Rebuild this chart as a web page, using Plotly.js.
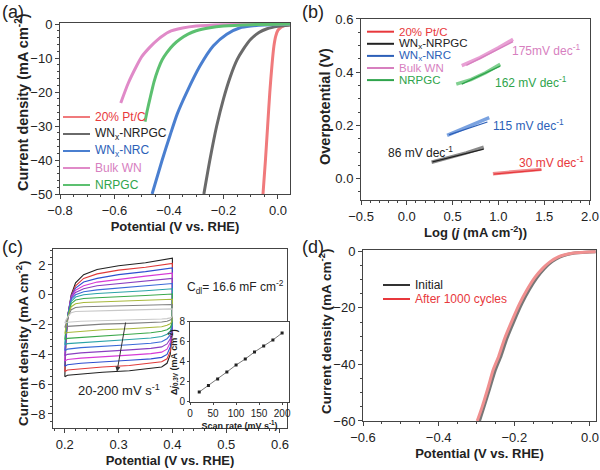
<!DOCTYPE html>
<html lang="en">
<head>
  <meta charset="UTF-8">
  <title>HER performance panels</title>
  <script src="https://cdn.plot.ly/plotly-3.0.1.min.js"></script>
  <style>
    body { margin: 0; background: #fff; }
    #chart { width: 600px; height: 470px; }
  </style>
</head>
<body>
  <div id="chart"></div>
  <script>
    // (a) polarization curves
    const ptcX = [0.044, 0.03, 0.02, 0.01, 0.0, -0.008, -0.015, -0.022, -0.03, -0.038, -0.046, -0.055];
    const ptcY = [-0.2, -0.4, -0.6, -1.0, -1.8, -3.5, -6.5, -12, -20, -30, -40, -50];
    const nrpgcWX = [0.044, 0.0, -0.04, -0.07, -0.1, -0.127, -0.15, -0.175, -0.2, -0.225, -0.25, -0.272];
    const nrpgcWY = [-0.3, -0.7, -1.4, -2.5, -4.5, -7.4, -10.5, -15.5, -22, -30, -40, -50];
    const nrcX = [0.044, -0.05, -0.1, -0.139, -0.188, -0.237, -0.286, -0.335, -0.37, -0.396, -0.425, -0.462];
    const nrcY = [-0.1, -0.3, -0.6, -1.1, -3.0, -6.4, -12.3, -20.1, -26.5, -32.7, -40, -50];
    const bulkX = [0.044, -0.1, -0.2, -0.3, -0.35, -0.4, -0.44, -0.47, -0.5, -0.52, -0.55, -0.577];
    const bulkY = [0, -0.1, -0.2, -0.6, -1.2, -2.3, -4.5, -6.8, -9.6, -12.5, -17.5, -23.2];
    const nrpgcX = [0.044, -0.1, -0.2, -0.25, -0.3, -0.33, -0.36, -0.385, -0.408, -0.425, -0.44, -0.455, -0.47, -0.48, -0.488];
    const nrpgcY = [0, -0.2, -0.6, -1.1, -2.0, -3.0, -4.5, -6.2, -8.4, -10.5, -13.3, -17, -22, -25.5, -28.7];

    // (b) Tafel plots: data and fitted lines
    const tafPtX = [0.94, 1.1, 1.3, 1.47];
    const tafPtY = [0.019, 0.023, 0.029, 0.035];
    const tafPtFitX = [0.95, 1.47];
    const tafPtFitY = [0.017, 0.033];
    const tafWnX = [0.27, 0.45, 0.65, 0.84];
    const tafWnY = [0.062, 0.078, 0.097, 0.118];
    const tafWnFitX = [0.28, 0.84];
    const tafWnFitY = [0.063, 0.111];
    const tafNrcX = [0.44, 0.6, 0.75, 0.9];
    const tafNrcY = [0.163, 0.186, 0.205, 0.229];
    const tafNrcFitX = [0.46, 0.88];
    const tafNrcFitY = [0.165, 0.213];
    const tafBulkX = [0.6, 0.8, 1.0, 1.16];
    const tafBulkY = [0.425, 0.455, 0.492, 0.524];
    const tafBulkFitX = [0.65, 1.16];
    const tafBulkFitY = [0.426, 0.515];
    const tafNrpgcX = [0.54, 0.7, 0.86, 1.02];
    const tafNrpgcY = [0.355, 0.372, 0.398, 0.43];
    const tafNrpgcFitX = [0.6, 1.02];
    const tafNrpgcFitY = [0.355, 0.423];

    // (c) CV loops, outer (200 mV/s) to inner
    const cvUpX = [0.2, 0.202, 0.206, 0.212, 0.22, 0.235, 0.26, 0.3, 0.35, 0.4];
    const cvDnX = [0.4, 0.399, 0.396, 0.39, 0.38, 0.36, 0.32, 0.27, 0.23, 0.205, 0.2];
    const cvUp = [
      [-5.5, -3.2, -1.3, 0.0, 0.8, 1.35, 1.7, 1.95, 2.15, 2.45],
      [-5.15, -3.0, -1.3, -0.05, 0.6, 1.1, 1.4, 1.65, 1.85, 2.1],
      [-4.8, -2.9, -1.3, -0.1, 0.45, 0.85, 1.1, 1.35, 1.55, 1.8],
      [-4.45, -2.8, -1.3, -0.15, 0.3, 0.6, 0.85, 1.05, 1.25, 1.45],
      [-4.1, -2.7, -1.3, -0.2, 0.15, 0.4, 0.6, 0.75, 0.9, 1.1],
      [-3.75, -2.6, -1.3, -0.3, 0.0, 0.2, 0.33, 0.45, 0.6, 0.75],
      [-3.35, -2.4, -1.35, -0.45, -0.15, 0.0, 0.08, 0.15, 0.27, 0.4],
      [-3.0, -2.3, -1.4, -0.6, -0.35, -0.25, -0.2, -0.15, -0.05, 0.05],
      [-2.6, -2.1, -1.45, -0.8, -0.6, -0.52, -0.48, -0.45, -0.38, -0.3],
      [-2.2, -1.9, -1.5, -1.0, -0.85, -0.8, -0.78, -0.75, -0.7, -0.65],
      [-1.9, -1.7, -1.45, -1.2, -1.12, -1.1, -1.08, -1.05, -1.0, -0.95]
    ];
    const cvDn = [
      [-1.4, -2.8, -4.0, -4.6, -4.85, -4.95, -5.1, -5.2, -5.3, -5.4, -5.5],
      [-1.4, -2.7, -3.8, -4.3, -4.5, -4.6, -4.75, -4.85, -4.95, -5.05, -5.15],
      [-1.4, -2.6, -3.5, -4.0, -4.2, -4.3, -4.4, -4.5, -4.6, -4.7, -4.8],
      [-1.4, -2.5, -3.2, -3.65, -3.85, -3.95, -4.05, -4.15, -4.25, -4.35, -4.45],
      [-1.4, -2.4, -2.95, -3.3, -3.5, -3.6, -3.7, -3.8, -3.9, -4.0, -4.1],
      [-1.4, -2.3, -2.7, -2.95, -3.15, -3.25, -3.35, -3.45, -3.55, -3.65, -3.75],
      [-1.4, -2.1, -2.45, -2.65, -2.8, -2.9, -3.0, -3.1, -3.2, -3.28, -3.35],
      [-1.4, -1.95, -2.2, -2.35, -2.45, -2.55, -2.65, -2.75, -2.85, -2.93, -3.0],
      [-1.4, -1.8, -1.95, -2.05, -2.15, -2.2, -2.28, -2.35, -2.45, -2.53, -2.6],
      [-1.4, -1.6, -1.7, -1.78, -1.83, -1.87, -1.92, -1.97, -2.05, -2.12, -2.2],
      [-1.4, -1.5, -1.55, -1.6, -1.63, -1.65, -1.68, -1.72, -1.78, -1.84, -1.9]
    ];
    const cvColors = ['#222222', '#e03a3a', '#2f4fd0', '#d63ad6', '#8a3fc0', '#3a6ad8',
                      '#2aa3a8', '#3aa84a', '#a8b83a', '#808080', '#c8c8c8'];

    // (c) inset: delta j vs scan rate
    const scanRate = [20, 40, 60, 80, 100, 120, 140, 160, 180, 200];
    const deltaJ = [1.0, 1.65, 2.3, 3.0, 3.7, 4.3, 5.0, 5.6, 6.2, 6.9];

    // (d) stability
    const initX = [-0.292, -0.28, -0.265, -0.25, -0.235, -0.22, -0.2, -0.18, -0.16, -0.14, -0.12, -0.1, -0.08, -0.06, -0.04, -0.02, 0.0, 0.015];
    const initY = [-60, -55, -48.5, -42, -37, -31, -24.5, -18.5, -13.5, -9.3, -6.0, -3.6, -2.0, -1.1, -0.6, -0.35, -0.2, -0.15];
    const afterX = [-0.298, -0.285, -0.27, -0.256, -0.241, -0.226, -0.206, -0.186, -0.166, -0.146, -0.125, -0.105, -0.085, -0.064, -0.044, -0.024, -0.004, 0.015];
    const afterY = [-60, -55, -48.5, -42, -37, -31, -24.5, -18.5, -13.5, -9.3, -6.0, -3.6, -2.0, -1.1, -0.6, -0.35, -0.2, -0.15];

    const sampleNames = ['20% Pt/C', 'WN<sub>x</sub>-NRPGC', 'WN<sub>x</sub>-NRC', 'Bulk WN', 'NRPGC'];
    const textColors = ['#e8383c', '#222222', '#2c5fb8', '#d77fbf', '#2fa44c'];
    const curveColors = ['#f07a7c', '#6a6a6a', '#4a7fd0', '#e08ac8', '#5cc070'];
    const tafelColors = ['#f08a8c', '#8a8a8a', '#7aa2e0', '#e8a0d4', '#80d090'];

    const W = 600, H = 470;
    const shapes = [];
    const annotations = [];

    // hand-drawn legend: pixel origin of first entry, row gap
    const addLegend = (x0, y0, gap, items, size) => {
      items.forEach(([name, lineColor, txtColor], i) => {
        const y = 1 - (y0 + i * gap) / H;
        shapes.push({ type: 'line', xref: 'paper', yref: 'paper', x0: x0 / W, x1: (x0 + 27) / W, y0: y, y1: y,
                      line: { color: lineColor, width: 2 } });
        annotations.push({ text: name, xref: 'paper', yref: 'paper', x: (x0 + 30) / W, y: y,
                           xanchor: 'left', yanchor: 'middle', showarrow: false,
                           font: { size: size, color: txtColor } });
      });
    };
    const yTitle = (text, px, py, size) => annotations.push({
      text: text, xref: 'paper', yref: 'paper', x: px / W, y: 1 - py / H, textangle: -90,
      xanchor: 'center', yanchor: 'middle', showarrow: false,
      font: { size: size, color: '#222', weight: 'bold' }
    });

    const traces = [];

    // panel (a)
    [[ptcX, ptcY], [nrpgcWX, nrpgcWY], [nrcX, nrcY], [bulkX, bulkY], [nrpgcX, nrpgcY]].forEach(([x, y], i) => {
      traces.push({
        x: x, y: y, type: 'scatter', mode: 'lines', xaxis: 'x', yaxis: 'y',
        line: { color: curveColors[i], width: 3, shape: 'spline', smoothing: 0.6 }, showlegend: false
      });
    });
    addLegend(63, 117, 17, sampleNames.map((n, i) => [n, curveColors[i], textColors[i]]), 12);

    // panel (b)
    [
      [tafPtX, tafPtY, tafPtFitX, tafPtFitY],
      [tafWnX, tafWnY, tafWnFitX, tafWnFitY],
      [tafNrcX, tafNrcY, tafNrcFitX, tafNrcFitY],
      [tafBulkX, tafBulkY, tafBulkFitX, tafBulkFitY],
      [tafNrpgcX, tafNrpgcY, tafNrpgcFitX, tafNrpgcFitY]
    ].forEach(([x, y, fx, fy], i) => {
      traces.push({
        x: x, y: y, type: 'scatter', mode: 'lines', xaxis: 'x2', yaxis: 'y2',
        line: { color: tafelColors[i], width: 3.5 }, showlegend: false
      });
      traces.push({
        x: fx, y: fy, type: 'scatter', mode: 'lines', xaxis: 'x2', yaxis: 'y2',
        line: { color: textColors[i], width: 1.3 }, showlegend: false
      });
    });
    addLegend(367, 31.7, 12.1, sampleNames.map((n, i) => [n, textColors[i], textColors[i]]), 11.5);

    // panel (c)
    cvUp.forEach((up, i) => {
      traces.push({
        x: cvUpX.concat(cvDnX), y: up.concat(cvDn[i]), type: 'scatter', mode: 'lines',
        xaxis: 'x3', yaxis: 'y3', line: { color: cvColors[i], width: 1.1 }, showlegend: false
      });
    });
    traces.push({
      x: scanRate, y: deltaJ, type: 'scatter', mode: 'lines+markers', xaxis: 'x5', yaxis: 'y5',
      line: { color: '#555', width: 0.8 }, marker: { symbol: 'square', size: 3, color: '#222' },
      showlegend: false
    });

    // panel (d)
    traces.push({
      x: initX, y: initY, type: 'scatter', mode: 'lines', xaxis: 'x4', yaxis: 'y4',
      line: { color: '#777', width: 3, shape: 'spline', smoothing: 0.6 }, showlegend: false
    });
    traces.push({
      x: afterX, y: afterY, type: 'scatter', mode: 'lines', xaxis: 'x4', yaxis: 'y4',
      line: { color: '#f09090', width: 3, shape: 'spline', smoothing: 0.6 }, showlegend: false
    });
    addLegend(383, 285, 14, [['Initial', '#333', '#222'], ['After 1000 cycles', '#e8383c', '#e8383c']], 12);

    yTitle('Current density (mA cm<sup>-2</sup>)', 22, 102, 14.5);
    yTitle('Overpotential (V)', 325, 107, 14.5);
    yTitle('Current density (mA cm<sup>-2</sup>)', 22, 344, 13.5);
    yTitle('Current density (mA cm<sup>-2</sup>)', 325, 332, 13.5);

    const ax = (extra) => Object.assign({
      showline: true, mirror: true, linecolor: '#444', linewidth: 1,
      ticks: 'outside', ticklen: 4, tickcolor: '#444', showgrid: false, zeroline: false,
      tickfont: { size: 13, color: '#222' },
      minor: { ticks: 'outside', ticklen: 2, tickcolor: '#444' }
    }, extra);
    const ttl = (t, standoff, size) => ({
      text: t, standoff: standoff, font: { size: size || 13, color: '#222', weight: 'bold' }
    });

    annotations.push(
      { text: '(a)', xref: 'paper', yref: 'paper', x: 0.0, y: 1.0, xanchor: 'left', yanchor: 'top', showarrow: false, font: { size: 18 } },
      { text: '(b)', xref: 'paper', yref: 'paper', x: 0.5, y: 1.0, xanchor: 'left', yanchor: 'top', showarrow: false, font: { size: 18 } },
      { text: '(c)', xref: 'paper', yref: 'paper', x: 0.0, y: 0.5, xanchor: 'left', yanchor: 'top', showarrow: false, font: { size: 18 } },
      { text: '(d)', xref: 'paper', yref: 'paper', x: 0.5, y: 0.5, xanchor: 'left', yanchor: 'top', showarrow: false, font: { size: 18 } },
      { text: '175mV dec<sup>-1</sup>', xref: 'x2', yref: 'y2', x: 1.13, y: 0.485, xanchor: 'left', showarrow: false, font: { size: 12, color: textColors[3] } },
      { text: '162 mV dec<sup>-1</sup>', xref: 'x2', yref: 'y2', x: 0.94, y: 0.365, xanchor: 'left', showarrow: false, font: { size: 12, color: textColors[4] } },
      { text: '115 mV dec<sup>-1</sup>', xref: 'x2', yref: 'y2', x: 0.916, y: 0.2, xanchor: 'left', showarrow: false, font: { size: 12, color: textColors[2] } },
      { text: '86 mV dec<sup>-1</sup>', xref: 'x2', yref: 'y2', x: -0.227, y: 0.101, xanchor: 'left', showarrow: false, font: { size: 12, color: textColors[1] } },
      { text: '30 mV dec<sup>-1</sup>', xref: 'x2', yref: 'y2', x: 1.2, y: 0.061, xanchor: 'left', showarrow: false, font: { size: 12, color: textColors[0] } },
      { text: 'C<sub>dl</sub>= 16.6 mF cm<sup>-2</sup>', xref: 'x3', yref: 'y3', x: 0.423, y: 0.5, xanchor: 'left', showarrow: false, font: { size: 12 } },
      { text: '20-200 mV s<sup>-1</sup>', xref: 'x3', yref: 'y3', x: 0.3, y: -6.4, showarrow: false, font: { size: 13 } },
      { text: '', xref: 'x3', yref: 'y3', x: 0.297, y: -5.16, axref: 'x3', ayref: 'y3', ax: 0.3135, ay: -1.76,
        showarrow: true, arrowhead: 2, arrowsize: 1, arrowwidth: 1, arrowcolor: '#333' }
    );

    const layout = {
      width: W, height: H,
      margin: { l: 0, r: 0, t: 0, b: 0 },
      paper_bgcolor: '#fff', plot_bgcolor: '#fff',
      font: { family: 'Arial, "Liberation Sans", sans-serif', color: '#222' },
      showlegend: false,
      xaxis: ax({ domain: [0.1, 0.4833], anchor: 'y', range: [-0.8, 0.044], dtick: 0.2, tickformat: '.1f',
                  title: ttl('Potential (V vs. RHE)', 5) }),
      yaxis: ax({ domain: [0.5872, 0.9511], anchor: 'x', range: [-50, 0.3], dtick: 10 }),
      xaxis2: ax({ domain: [0.6017, 0.9833], anchor: 'y2', range: [-0.5, 2.0], dtick: 0.5, tickformat: '.1f',
                   title: ttl('Log (<i>j</i> (mA cm<sup>-2</sup>))', 3) }),
      yaxis2: ax({ domain: [0.5745, 0.9596], anchor: 'x2', range: [-0.08, 0.6], dtick: 0.2, tickformat: '.1f' }),
      xaxis3: ax({ domain: [0.0883, 0.4783], anchor: 'y3', range: [0.178, 0.613], dtick: 0.1, tickformat: '.1f',
                   title: ttl('Potential (V vs. RHE)', 5) }),
      yaxis3: ax({ domain: [0.0894, 0.4702], anchor: 'x3', range: [-8.94, 3.07], dtick: 2 }),
      xaxis4: ax({ domain: [0.605, 0.9933], anchor: 'y4', range: [-0.6, 0.016], dtick: 0.2, tickformat: '.1f',
                   title: ttl('Potential (V vs. RHE)', 5) }),
      yaxis4: ax({ domain: [0.1043, 0.4681], anchor: 'x4', range: [-60, 0.5], dtick: 20 }),
      xaxis5: ax({ domain: [0.3167, 0.4817], anchor: 'y5', range: [0, 215], dtick: 50, ticklen: 2,
                   tickfont: { size: 10, color: '#222' }, minor: { ticks: '' },
                   title: ttl('Scan rate (mV s<sup>-1</sup>)', 0, 9) }),
      yaxis5: ax({ domain: [0.1447, 0.3149], anchor: 'x5', range: [0, 8], dtick: 2, ticklen: 2,
                   tickfont: { size: 10, color: '#222' }, minor: { ticks: '' },
                   title: ttl('Δ<i>j</i><sub>0.3V</sub> (mA cm<sup>-2</sup>)', 0, 9) }),
      shapes: shapes,
      annotations: annotations
    };

    Plotly.newPlot('chart', traces, layout, { displayModeBar: false, staticPlot: true });
  </script>
</body>
</html>
